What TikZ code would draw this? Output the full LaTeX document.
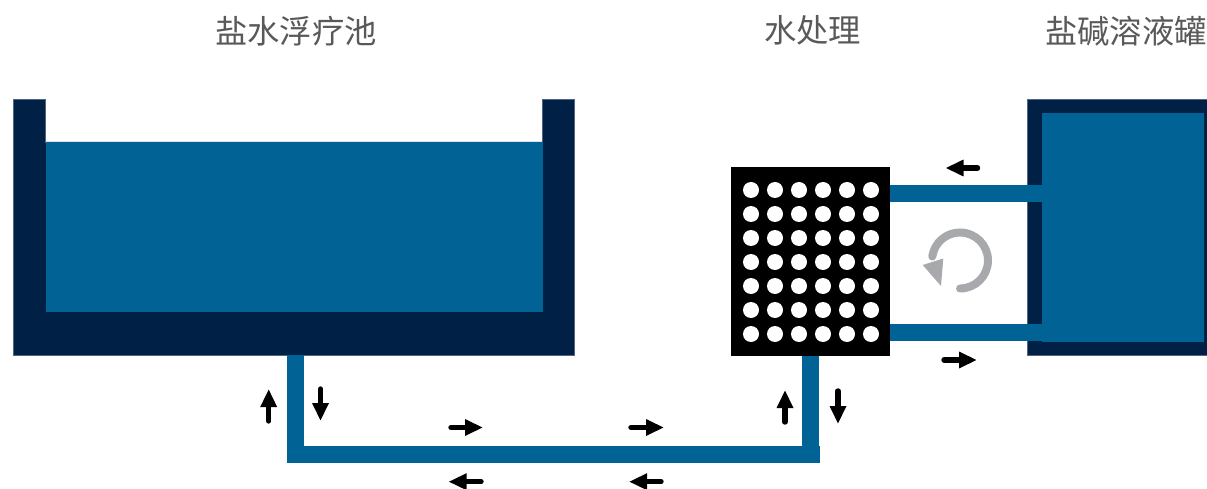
\documentclass[tikz,border=0pt]{standalone}
\usepackage{fontspec}
\newfontfamily\cjk{Noto Sans CJK SC}
\usetikzlibrary{arrows.meta}
\definecolor{water}{HTML}{006295}
\definecolor{navy}{HTML}{002145}
\definecolor{edgeline}{HTML}{50657F}
\definecolor{cyclegrey}{HTML}{A7A9AC}
\definecolor{labelgrey}{HTML}{595959}
\tikzset{
  x=1pt,y=-1pt,
  wall/.style={fill=navy,draw=edgeline,line width=.6pt},
  liquid/.style={fill=water},
  flow/.style={line width=5.4pt,line cap=round,-{Triangle[length=18pt,width=15.5pt]},black},
  title/.style={font=\cjk\fontsize{32.3}{34}\selectfont,text=labelgrey,inner sep=0pt,anchor=center},
  hole/.style={fill=white}
}
\begin{document}
\begin{tikzpicture}
\useasboundingbox (0,0) rectangle (1207,489);
% titles
\node[title] (t1) at (296,30.7) {盐水浮疗池};
\node[title] (t2) at (812.5,30.7) {水处理};
\node[title] (t3) at (1126,30.7) {盐碱溶液罐};
% left tank
\draw[wall] (13.5,99.5) -- (45.5,99.5) -- (45.5,142) -- (542.5,142) -- (542.5,99.5) -- (574.5,99.5) -- (574.5,355) -- (13.5,355) -- cycle;
\fill[liquid] (45.5,142) rectangle (543,312);
% right tank
\draw[wall] (1027.5,99.5) rectangle (1210,355);
\fill[liquid] (1042,113.5) rectangle (1204,341.5);
% pipes
\fill[liquid] (890,185) rectangle (1042,202);
\fill[liquid] (890,324) rectangle (1042,341);
\fill[liquid] (287,355.4) rectangle (304,463);
\fill[liquid] (287,446) rectangle (820,463);
\fill[liquid] (802,356) rectangle (819,446);
% treatment unit
\fill[black] (731,167) rectangle (890,356);
\foreach \cx in {751,775,799,823,847,871}
  \foreach \cy in {190,214,238,262,286,310,334}
    \fill[hole] (\cx,\cy) circle[radius=8];
% flow arrows
\draw[flow] (268.7,421) -- (268.7,389);
\draw[flow] (320.5,389) -- (320.5,421);
\draw[flow] (451,427.5) -- (483,427.5);
\draw[flow] (631,427.5) -- (664,427.5);
\draw[flow] (481,481.7) -- (448.5,481.7);
\draw[flow] (661,481.7) -- (629,481.7);
\draw[flow] (785,422) -- (785,390);
\draw[flow] (838,391) -- (838,424);
\draw[flow] (977.5,168) -- (945.5,168);
\draw[flow] (944,360) -- (977,360);
% cycle symbol
\draw[cyclegrey,line width=8pt,line cap=round] (960,288.5) arc[start angle=90,end angle=-172,x radius=28,y radius=28];
\fill[cyclegrey] (922.7,265) -- (943.3,258.5) -- (941,286) -- cycle;
\end{tikzpicture}
\end{document}
